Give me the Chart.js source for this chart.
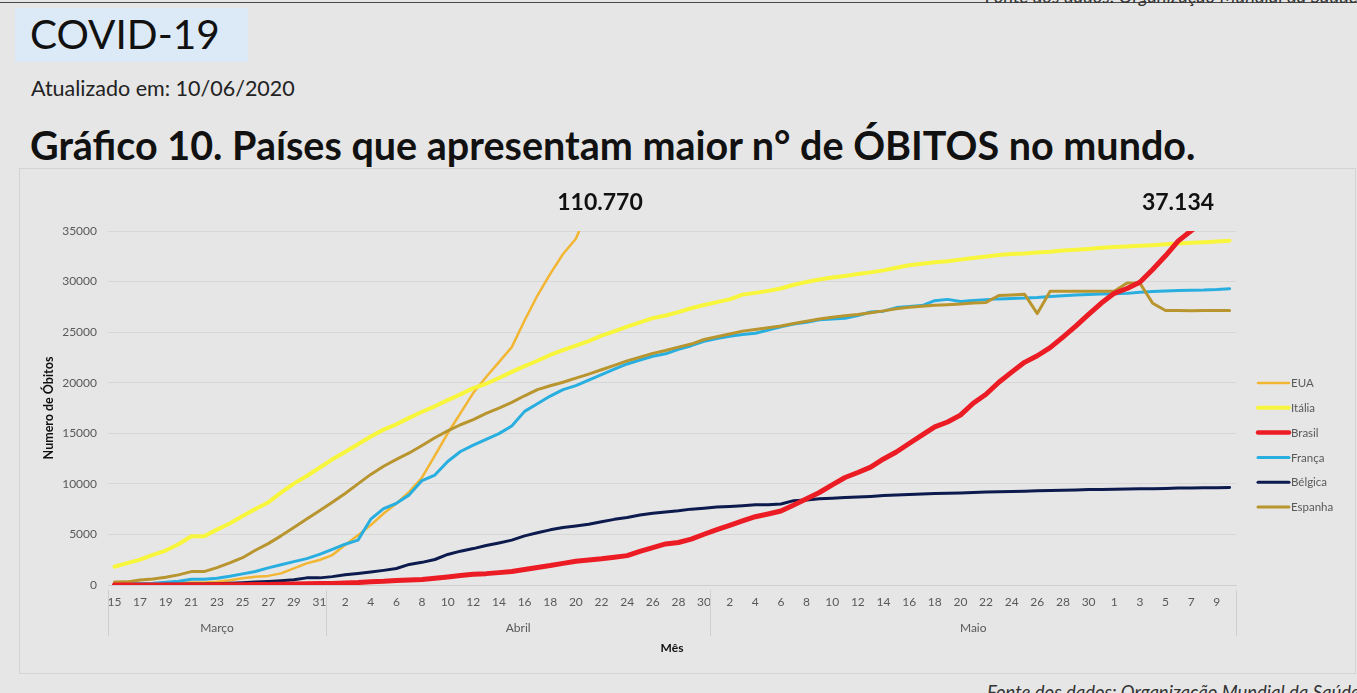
<!DOCTYPE html>
<html><head><meta charset="utf-8">
<script src="https://cdn.jsdelivr.net/npm/chart.js@4.4.1/dist/chart.umd.min.js"></script>
<style>
html,body{margin:0;padding:0;width:1357px;height:693px;overflow:hidden;background:#e6e6e6;font-family:Lato,"Open Sans",sans-serif;}
.abs{position:absolute;white-space:nowrap;}
#topline{left:0;top:2px;width:1357px;height:1px;background:#4a4a4a;}
#srcTop{left:985px;top:-14px;font-style:italic;font-size:18.5px;line-height:21px;color:#333;}
#covidBox{left:15px;top:8px;width:233px;height:54px;background:#dce9f6;}
#covid{left:30px;top:8px;font-size:40.5px;color:#111;line-height:52px;}
#upd{left:31px;top:75px;font-size:21.5px;color:#222;line-height:26px;}
#title{left:30px;top:121px;font-size:39.5px;font-weight:700;color:#111;line-height:48px;}
#frame{left:19px;top:168px;width:1335px;height:504px;border:1px solid #d3d3d3;box-sizing:content-box;}
#chartWrap{left:19px;top:168px;width:1336px;height:505px;}
.ann{font-weight:700;font-size:23px;color:#111;width:160px;text-align:center;line-height:28px;top:187px;}
#srcBot{left:987px;top:682px;font-style:italic;font-size:18.5px;line-height:21px;color:#333;}
</style></head>
<body>
<div id="topline" class="abs"></div>
<div id="srcTop" class="abs">Fonte dos dados: Organização Mundial da Saúde</div>
<div id="covidBox" class="abs"></div>
<div id="covid" class="abs">COVID-19</div>
<div id="upd" class="abs">Atualizado em: 10/06/2020</div>
<div id="title" class="abs">Gráfico 10. Países que apresentam maior n° de ÓBITOS no mundo.</div>
<div id="frame" class="abs"></div>
<div id="chartWrap" class="abs"><canvas id="c" width="1336" height="505"></canvas></div>
<div class="abs ann" style="left:520px;">110.770</div>
<div class="abs ann" style="left:1098px;">37.134</div>
<div id="srcBot" class="abs">Fonte dos dados: Organização Mundial da Saúde</div>
<script>
// ---- data ----
const dayLabels = [15,16,17,18,19,20,21,22,23,24,25,26,27,28,29,30,31,
  1,2,3,4,5,6,7,8,9,10,11,12,13,14,15,16,17,18,19,20,21,22,23,24,25,26,27,28,29,30,
  1,2,3,4,5,6,7,8,9,10,11,12,13,14,15,16,17,18,19,20,21,22,23,24,25,26,27,28,29,30,31,
  1,2,3,4,5,6,7,8,9,10];
const monthNames = ['Março','Abril','Maio'];
const monthSpans = [17,30,41];
const seriesNames = ['EUA','Itália','Brasil','França','Bélgica','Espanha'];

const eua = [50,58,68,97,150,207,256,256,330,471,660,820,900,1150,1640,2140,2470,2960,3950,4930,5920,7070,8060,9210,10630,12800,15000,17000,19000,20560,22040,23520,26150,28620,30760,32730,34240,
  37202,40549,42994,45126,47980,49963,51949,53934,55258,56527,58365,60632,62995,64804,65993,67001,68922,71222,73257,75066,76637,77548,78771,80348,82241,83807,85245,86387,87237,88283,89650,91067,92624,93865,94911,95485,96040,97634,99120,100442,101567,102640,103407,104161,105185,106263,107175,108200,109100,109800,110770];
const italia = [1809,2158,2503,2978,3405,4032,4825,4825,5476,6077,6820,7503,8165,9134,10023,10779,11591,12428,13155,13915,14681,15362,15887,16523,17127,17669,18279,18849,19468,19899,20465,21067,21645,22170,22745,23227,23660,24114,24648,25085,25549,25969,26384,26644,26977,27359,27682,27967,28236,28710,28884,29079,29315,29684,29958,30201,30395,30560,30739,30911,31106,31368,31610,31763,31908,32007,32169,32330,32486,32616,32735,32785,32877,32955,33072,33142,33229,33340,33415,33475,33530,33601,33689,33774,33846,33899,33964,34043];
const brasil = [0,0,0,0,1,4,6,11,18,25,34,46,59,77,92,114,136,159,201,240,324,359,445,486,553,667,800,941,1056,1124,1223,1328,1532,1736,1924,2141,2354,2462,2587,2741,2906,3331,3704,4057,4205,4543,5017,5466,5901,6329,6750,7025,7321,7921,8536,9146,9897,10627,11123,11653,12461,13149,13993,14817,15633,16118,16792,17971,18859,20047,21048,22013,22666,23473,24512,25598,26754,27878,28834,29314,29937,31199,32548,34021,35026,35930,36455,37134];
const franca = [91,127,148,175,264,372,562,562,674,860,1100,1331,1696,1995,2314,2606,3024,3523,4032,4440,6507,7560,8078,8911,10328,10869,12210,13197,13832,14393,14967,15729,17167,17920,18681,19323,19718,20265,20796,21340,21856,22245,22614,22856,23293,23660,24087,24376,24594,24760,24895,25201,25531,25809,25987,26230,26310,26380,26643,26991,27074,27425,27529,27625,28108,28239,28022,28132,28215,28289,28332,28367,28432,28530,28596,28662,28714,28771,28802,28833,28940,29021,29065,29111,29142,29155,29209,29296];
const belgica = [10,14,21,37,67,75,88,88,122,178,220,289,353,431,513,705,705,828,1011,1143,1283,1447,1632,2035,2240,2523,3019,3346,3600,3903,4157,4440,4857,5163,5453,5683,5828,5998,6262,6490,6679,6917,7094,7207,7331,7501,7594,7703,7765,7844,7924,7924,8016,8339,8415,8521,8581,8656,8707,8761,8843,8903,8959,9005,9052,9080,9108,9150,9186,9212,9237,9280,9312,9334,9364,9388,9430,9453,9467,9486,9505,9522,9548,9580,9595,9606,9619,9629];
const espanha = [288,309,491,598,767,1002,1326,1326,1720,2182,2696,3434,4089,4858,5690,6528,7340,8189,9053,10003,10935,11744,12418,13055,13798,14555,15238,15843,16353,16972,17489,18056,18708,19315,19700,20043,20453,20852,21282,21717,22157,22524,22902,23190,23521,23822,24275,24543,24824,25100,25264,25428,25613,25857,26070,26299,26478,26621,26744,26920,27104,27321,27459,27563,27650,27709,27778,27888,27940,28628,28678,28752,26834,29045,29045,29045,29045,29045,29045,29850,29850,27860,27136,27136,27127,27133,27133,27136];
const yTicks = {min:0, max:35000, step:5000};

// ---- styles ----
const styles = [
  {color:'#f2b632', width:2.5, order:6},
  {color:'#f7f53c', width:4, order:5},
  {color:'#ec1c24', width:5, order:1},
  {color:'#29aee0', width:3, order:4},
  {color:'#0c1a4e', width:3, order:3},
  {color:'#b8952e', width:3, order:2}
];
const values = [eua, italia, brasil, franca, belgica, espanha];

Chart.defaults.font.family = "Lato, 'Open Sans', sans-serif";

const monthPlugin = {
  id:'months',
  afterDraw(chart){
    const ctx = chart.ctx, x = chart.scales.x, area = chart.chartArea;
    const half = (x.getPixelForValue(1) - x.getPixelForValue(0)) / 2;
    ctx.save();
    ctx.strokeStyle = '#cfcfcf'; ctx.lineWidth = 1;
    ctx.fillStyle = '#595959'; ctx.font = "12px Lato, 'Open Sans', sans-serif";
    ctx.textAlign = 'center'; ctx.textBaseline = 'middle';
    let start = 0;
    const y1 = area.bottom + 5, y2 = area.bottom + 51;
    for (let m = 0; m < monthNames.length; m++) {
      const end = start + monthSpans[m] - 1;
      const l = x.getPixelForValue(start) - half;
      const r = x.getPixelForValue(end) + half;
      ctx.beginPath(); ctx.moveTo(Math.round(l)+0.5, y1); ctx.lineTo(Math.round(l)+0.5, y2); ctx.stroke();
      if (m === monthNames.length - 1) { ctx.beginPath(); ctx.moveTo(Math.round(r)+0.5, y1); ctx.lineTo(Math.round(r)+0.5, y2); ctx.stroke(); }
      ctx.fillText(monthNames[m], (l + r) / 2, area.bottom + 43);
      start = end + 1;
    }
    ctx.restore();
  }
};

const legendPlugin = {
  id:'sideLegend',
  afterDraw(chart){
    const ctx = chart.ctx, area = chart.chartArea;
    const left = area.right + 22;
    ctx.save();
    ctx.font = "11.5px Lato, 'Open Sans', sans-serif";
    ctx.textBaseline = 'middle'; ctx.textAlign = 'left';
    chart.data.datasets.forEach((ds, i) => {
      const y = area.top + 152 + i * 24.8;
      ctx.strokeStyle = ds.borderColor; ctx.lineWidth = Math.min(ds.borderWidth, 4.5);
      ctx.lineCap = 'round';
      ctx.beginPath(); ctx.moveTo(left, y); ctx.lineTo(left + 31, y); ctx.stroke();
      ctx.fillStyle = '#595959';
      ctx.fillText(ds.label, left + 33, y + 0.5);
    });
    ctx.restore();
  }
};

new Chart(document.getElementById('c'), {
  type:'line',
  data:{
    labels: dayLabels,
    datasets: seriesNames.map((n, i) => ({
      label: n, data: values[i], borderColor: styles[i].color, backgroundColor: styles[i].color,
      borderWidth: styles[i].width, order: styles[i].order, pointRadius: 0, tension: 0,
      borderJoinStyle: 'round', borderCapStyle: 'round', fill: false
    }))
  },
  options:{
    responsive:false, animation:false, events:[],
    layout:{padding:{top:63, right:119, left:0, bottom:0}},
    plugins:{legend:{display:false}, tooltip:{enabled:false}},
    scales:{
      x:{
        offset:true,
        grid:{display:false, drawTicks:false},
        border:{display:true, color:'#cfcfcf'},
        ticks:{autoSkip:false, maxRotation:0, minRotation:0, padding:10, color:'#595959', font:{size:12},
          callback:(v, i) => (i % 2 === 0 ? String(dayLabels[i]) : '')},
        title:{display:true, text:'Mês', color:'#111', font:{size:12, weight:'bold'}, padding:{top:0, bottom:18}},
        afterFit: s => { s.height = 88; }
      },
      y:{
        min:yTicks.min, max:yTicks.max,
        ticks:{stepSize:yTicks.step, padding:11, color:'#595959', font:{size:12}, callback: v => String(v)},
        grid:{color:'#d7d7d7', drawTicks:false},
        border:{display:false},
        title:{display:true, text:'Numero de Óbitos', color:'#111', font:{size:12.5, weight:'bold'}, padding:{top:22, bottom:0}},
        afterFit: s => { s.width = 89; }
      }
    }
  },
  plugins:[monthPlugin, legendPlugin]
});
</script>
</body></html>
